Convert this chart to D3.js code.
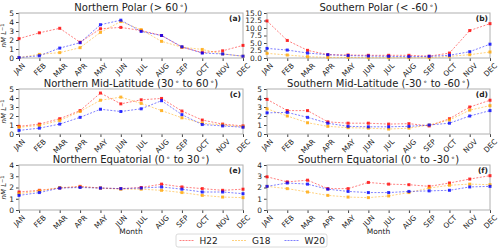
<!DOCTYPE html>
<html>
<head>
<meta charset="utf-8">
<script src="https://cdn.jsdelivr.net/npm/d3@7"></script>
<style>
  body { margin: 0; background: #fff; }
  svg { display: block; font-family: "DejaVu Sans", sans-serif; }
</style>
</head>
<body>
<div id="chart"></div>
<script>
const months = ["JAN", "FEB", "MAR", "APR", "MAY", "JUN", "JUL", "AUG", "SEP", "OCT", "NOV", "DEC"];
const seriesNames = ["H22", "G18", "W20"];

// (a) Northern Polar
const nPolarH22 = [2.15, 2.8, 3.3, 1.75, 3.25, 3.4, 3.05, 2.5, 1.2, 0.6, 0.8, 1.4];
const nPolarG18 = [0.05, 0.4, 0.6, 1.15, 2.85, 4.05, 3.15, 1.85, 1.2, 0.95, 0.45, 0.2];
const nPolarW20 = [0.05, 0.25, 1.1, 1.7, 3.7, 4.2, 2.95, 2.5, 1.25, 0.55, 0.45, 0.2];
// (b) Southern Polar
const sPolarH22 = [12.35, 5.85, 2.55, 1.1, 1.0, 0.9, 0.9, 0.9, 0.6, 1.65, 9.15, 11.45];
const sPolarG18 = [1.55, 1.0, 0.45, 0.2, 0.2, 0.1, 0.1, 0.1, 0.1, 0.55, 1.1, 2.0];
const sPolarW20 = [3.2, 2.65, 1.65, 1.1, 0.8, 0.65, 0.55, 0.45, 0.55, 0.9, 2.1, 4.6];
// (c) Northern Mid-Latitude
const nMidH22 = [0.85, 1.1, 1.7, 2.6, 4.55, 3.35, 3.8, 3.95, 2.55, 1.55, 1.1, 0.9];
const nMidG18 = [0.75, 0.95, 1.5, 2.5, 3.75, 4.1, 3.4, 2.6, 1.8, 1.2, 1.0, 0.8];
const nMidW20 = [0.4, 0.65, 1.1, 1.85, 2.75, 2.5, 2.8, 3.7, 2.15, 1.05, 0.9, 0.75];
// (d) Southern Mid-Latitude
const sMidH22 = [3.85, 2.6, 2.6, 1.35, 1.2, 1.2, 1.1, 1.15, 0.9, 1.7, 3.0, 3.75];
const sMidG18 = [2.8, 2.0, 1.25, 0.85, 0.7, 0.65, 0.55, 0.65, 1.0, 1.55, 2.65, 3.15];
const sMidW20 = [2.35, 2.4, 1.85, 1.2, 0.85, 0.8, 0.8, 0.85, 1.0, 1.2, 2.0, 2.6];
// (e) Northern Equatorial
const nEqH22 = [1.6, 1.75, 1.95, 2.1, 1.95, 1.9, 2.0, 2.3, 2.05, 1.9, 1.75, 1.85];
const nEqG18 = [1.45, 1.7, 2.0, 2.05, 1.95, 1.85, 1.85, 1.75, 1.55, 1.3, 1.15, 1.1];
const nEqW20 = [1.3, 1.55, 1.95, 2.0, 1.95, 1.9, 1.95, 2.05, 1.85, 1.6, 1.6, 1.45];
// (f) Southern Equatorial
const sEqH22 = [2.95, 2.5, 2.65, 1.9, 1.9, 2.45, 2.3, 2.25, 2.1, 2.4, 2.75, 3.05];
const sEqG18 = [2.1, 1.9, 1.6, 1.3, 1.15, 1.1, 1.25, 1.55, 1.95, 2.2, 2.3, 2.25];
const sEqW20 = [2.1, 2.4, 2.3, 1.85, 1.65, 1.55, 1.55, 1.65, 1.7, 1.75, 2.05, 2.1];

const panels = [
  { title: "Northern Polar (> 60°)", tag: "(a)", ticks: [0, 1, 2, 3, 4, 5], fmt: "d", series: [nPolarH22, nPolarG18, nPolarW20] },
  { title: "Southern Polar (< -60°)", tag: "(b)", ticks: [0, 2.5, 5, 7.5, 10, 12.5, 15], fmt: ".1f", series: [sPolarH22, sPolarG18, sPolarW20] },
  { title: "Northern Mid-Latitude (30° to 60°)", tag: "(c)", ticks: [0, 1, 2, 3, 4, 5], fmt: "d", series: [nMidH22, nMidG18, nMidW20] },
  { title: "Southern Mid-Latitude (-30° to -60°)", tag: "(d)", ticks: [0, 1, 2, 3, 4, 5], fmt: "d", series: [sMidH22, sMidG18, sMidW20] },
  { title: "Northern Equatorial (0° to 30°)", tag: "(e)", ticks: [0, 1, 2, 3, 4], fmt: "d", series: [nEqH22, nEqG18, nEqW20] },
  { title: "Southern Equatorial (0° to -30°)", tag: "(f)", ticks: [0, 1, 2, 3, 4], fmt: "d", series: [sEqH22, sEqG18, sEqW20] }
];

const width = 500;
const height = 252;
const colX = [19, 267];
const colW = [224, 223];
const rowY = [13, 89, 165];
const rowH = 45;

const color = d3.scaleOrdinal().domain(seriesNames).range(["#ff0000", "#ffa500", "#0000ff"]);

const svg = d3.select("#chart").append("svg")
  .attr("width", width)
  .attr("height", height);

// title text with raised degree rings
function writeTitle(sel, str) {
  const parts = str.split("°");
  parts.forEach((p, i) => {
    sel.append("tspan").attr("dy", i > 0 ? 3 : 0).text(p);
    if (i < parts.length - 1) {
      sel.append("tspan").attr("dy", -3).attr("font-size", 7).text("\u2009\u2218");
    }
  });
}

panels.forEach((p, idx) => {
  const col = idx % 2;
  const row = Math.floor(idx / 2);
  const x0 = colX[col], w = colW[col];
  const y0 = rowY[row], h = rowH;
  const yMax = p.ticks[p.ticks.length - 1];

  const x = d3.scaleLinear().domain([0, 11]).range([x0, x0 + w]);
  const y = d3.scaleLinear().domain([0, yMax]).range([y0 + h, y0]);

  const g = svg.append("g");

  // y axis
  const ya = g.append("g")
    .attr("transform", `translate(${x0},0)`)
    .call(d3.axisLeft(y).tickValues(p.ticks).tickSize(3).tickPadding(2).tickFormat(d3.format(p.fmt)));
  ya.select(".domain").remove();
  ya.selectAll("line").attr("stroke", "#444");
  ya.selectAll("text").attr("font-size", 7.5).attr("fill", "#222").attr("font-family", "DejaVu Sans");

  // x axis
  const xa = g.append("g")
    .attr("transform", `translate(0,${y0 + h})`)
    .call(d3.axisBottom(x).tickValues(d3.range(12)).tickSize(3).tickFormat((i) => months[i]));
  xa.select(".domain").remove();
  xa.selectAll("line").attr("stroke", "#444");
  xa.selectAll("text")
    .attr("font-size", 7.3)
    .attr("fill", "#222")
    .attr("font-family", "DejaVu Sans")
    .attr("dy", null)
    .attr("text-anchor", "middle")
    .attr("dominant-baseline", "central")
    .each(function () {
      const len = this.getComputedTextLength();
      const half = (len * 0.7071 + 7 * 0.7071) / 2;
      d3.select(this).attr("y", null)
        .attr("transform", `translate(0,${4 + half}) rotate(-45)`);
    });

  // frame
  g.append("rect")
    .attr("x", x0).attr("y", y0).attr("width", w).attr("height", h)
    .attr("fill", "none").attr("stroke", "#b0b0b0").attr("stroke-width", 1);

  // lines and markers
  p.series.forEach((vals, si) => {
    const c = color(seriesNames[si]);
    const line = d3.line().x((d, i) => x(i)).y((d) => y(d));
    g.append("path")
      .datum(vals)
      .attr("d", line)
      .attr("fill", "none")
      .attr("stroke", c)
      .attr("stroke-opacity", 0.5)
      .attr("stroke-width", 1)
      .attr("stroke-dasharray", "2,1.5");
    g.selectAll(null)
      .data(vals)
      .join("rect")
      .attr("x", (d, i) => x(i) - 1.5)
      .attr("y", (d) => y(d) - 1.5)
      .attr("width", 3)
      .attr("height", 3)
      .attr("fill", c)
      .attr("fill-opacity", 0.8);
  });

  // panel tag
  g.append("text")
    .attr("x", x0 + w - 2)
    .attr("y", y0 + 7.5)
    .attr("text-anchor", "end")
    .attr("font-size", 7.5)
    .attr("font-weight", "bold")
    .attr("fill", "#222")
    .text(p.tag);

  // title
  const t = g.append("text")
    .attr("x", x0 + w / 2)
    .attr("y", y0 - 2.5)
    .attr("text-anchor", "middle")
    .attr("font-size", 10)
    .attr("fill", "#222");
  writeTitle(t, p.title);

  // y label on left column
  if (col === 0) {
    const yl = g.append("text")
      .attr("transform", `translate(6,${y0 + h / 2}) rotate(-90)`)
      .attr("text-anchor", "middle")
      .attr("font-size", 7)
      .attr("font-style", "italic")
      .attr("fill", "#222");
    yl.append("tspan").text("nM L");
    yl.append("tspan").attr("dy", -2.5).attr("font-size", 5).attr("font-style", "normal").text("−1");
  }

  // x label on bottom row
  if (row === 2) {
    g.append("text")
      .attr("x", x0 + w / 2)
      .attr("y", y0 + h + 24)
      .attr("text-anchor", "middle")
      .attr("font-size", 7.5)
      .attr("fill", "#222")
      .text("Month");
  }
});

// legend
const legend = svg.append("g").attr("transform", "translate(176,234)");
legend.append("rect")
  .attr("width", 151).attr("height", 13).attr("rx", 2)
  .attr("fill", "#fff").attr("stroke", "#d0d0d0").attr("stroke-width", 0.8);
seriesNames.forEach((s, i) => {
  const item = legend.append("g").attr("transform", `translate(3.5,6.5)`)
    .attr("transform", `translate(${3.5 + i * 52.5},6.5)`);
  item.append("line")
    .attr("x1", 0).attr("x2", 15)
    .attr("stroke", color(s))
    .attr("stroke-opacity", 0.5)
    .attr("stroke-width", 1)
    .attr("stroke-dasharray", "2,1");
  item.append("text")
    .attr("x", 20)
    .attr("y", 3.2)
    .attr("font-size", 9)
    .attr("fill", "#222")
    .text(s);
});
</script>
</body>
</html>
